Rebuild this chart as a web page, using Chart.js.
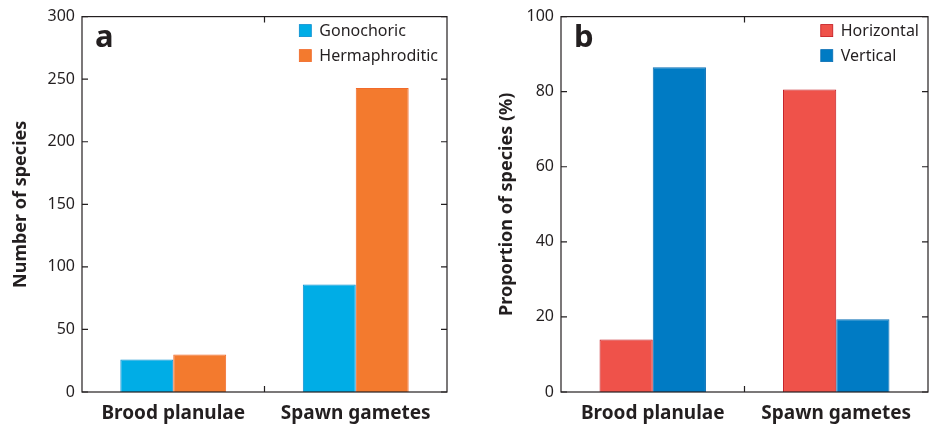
<!DOCTYPE html>
<html>
<head>
<meta charset="utf-8">
<script src="https://cdn.jsdelivr.net/npm/chart.js@4.4.1/dist/chart.umd.min.js"></script>
<style>
  html, body { margin: 0; padding: 0; background: #fff; }
  #wrap { position: relative; width: 930px; height: 430px; }
  canvas { position: absolute; top: 0; }
</style>
</head>
<body>
<div id="wrap">
  <canvas id="panelA" width="465" height="430" style="left:0"></canvas>
  <canvas id="panelB" width="465" height="430" style="left:465px"></canvas>
</div>
<script>
// values
const categories = ['Brood planulae', 'Spawn gametes'];
const gonochoric = [26, 86];
const hermaphroditic = [30, 243];
const horizontal = [14, 80.6];
const vertical = [86.5, 19.4];
const countMax = 300, countStep = 50;
const propMax = 100, propStep = 20;

const FONT = "'Noto Sans', 'Open Sans', sans-serif";
const INK = '#231F20';

// frame, inward ticks, panel letter and legend inside the plot
const panelPlugin = {
  id: 'panel',
  afterDraw(chart, args, opts) {
    const ctx = chart.ctx;
    const { left, right, top, bottom } = chart.chartArea;
    const y = chart.scales.y, x = chart.scales.x;
    ctx.save();
    ctx.strokeStyle = INK;
    ctx.lineWidth = 1.2;
    ctx.strokeRect(left, top, right - left, bottom - top);

    ctx.beginPath();
    y.ticks.forEach(t => {
      const py = y.getPixelForValue(t.value);
      ctx.moveTo(left, py); ctx.lineTo(left + 6, py);
      ctx.moveTo(right, py); ctx.lineTo(right - 6, py);
    });
    const mid = (x.getPixelForValue(0) + x.getPixelForValue(1)) / 2;
    ctx.moveTo(mid, top); ctx.lineTo(mid, top + 6);
    ctx.moveTo(mid, bottom); ctx.lineTo(mid, bottom - 6);
    ctx.stroke();

    // panel letter
    ctx.fillStyle = INK;
    ctx.font = 'bold 31px ' + FONT;
    ctx.textBaseline = 'alphabetic';
    ctx.textAlign = 'left';
    ctx.fillText(opts.letter, left + 13, top + 30);

    // legend
    ctx.font = '16px ' + FONT;
    const sets = chart.data.datasets;
    const tw = Math.max(...sets.map(d => ctx.measureText(d.label).width));
    const bx = right - 9 - tw - 8 - 12;
    sets.forEach((d, i) => {
      const cy = top + 14 + i * 25;
      ctx.fillStyle = d.backgroundColor;
      ctx.fillRect(bx, cy - 6, 12, 12);
      ctx.strokeStyle = d.borderColor;
      ctx.lineWidth = 0.8;
      ctx.strokeRect(bx, cy - 6, 12, 12);
      ctx.fillStyle = INK;
      ctx.textBaseline = 'middle';
      ctx.fillText(d.label, bx + 20, cy + 1);
    });
    ctx.restore();
  }
};

function makePanel(id, letter, sets, max, step, title, padLeft, leftW, rightPad) {
  return new Chart(document.getElementById(id), {
    type: 'bar',
    data: {
      labels: categories,
      datasets: sets.map(s => ({
        label: s.label,
        data: s.data,
        backgroundColor: s.fill,
        borderColor: s.edge,
        borderWidth: 1,
        categoryPercentage: 0.58,
        barPercentage: 1
      }))
    },
    options: {
      responsive: false,
      animation: false,
      layout: { autoPadding: false, padding: { top: 15, right: rightPad, left: padLeft, bottom: 0 } },
      plugins: { legend: { display: false }, tooltip: { enabled: false }, panel: { letter: letter } },
      scales: {
        x: {
          grid: { display: false, drawTicks: false },
          border: { display: false },
          ticks: { color: INK, font: { family: FONT, size: 19, weight: 'bold' }, padding: 10 },
          afterFit(s) { s.height = 38; }
        },
        y: {
          min: 0, max: max,
          grid: { display: false, drawTicks: false },
          border: { display: false },
          ticks: { stepSize: step, color: INK, font: { family: FONT, size: 16 }, padding: 7 },
          title: { display: true, text: title, color: INK, font: { family: FONT, size: 18, weight: 'bold' }, padding: 0 },
          afterFit(s) { s.width = leftW; }
        }
      }
    },
    plugins: [panelPlugin]
  });
}

makePanel('panelA', 'a', [
  { label: 'Gonochoric', data: gonochoric, fill: '#00ADE6', edge: '#0A8ED0' },
  { label: 'Hermaphroditic', data: hermaphroditic, fill: '#F37A2E', edge: '#F26A2A' }
], countMax, countStep, 'Number of species', 10, 72, 18);

makePanel('panelB', 'b', [
  { label: 'Horizontal', data: horizontal, fill: '#EF524A', edge: '#C3161C' },
  { label: 'Vertical', data: vertical, fill: '#007BC4', edge: '#0A6FB5' }
], propMax, propStep, 'Proportion of species (%)', 31, 65, 2);
</script>
</body>
</html>
